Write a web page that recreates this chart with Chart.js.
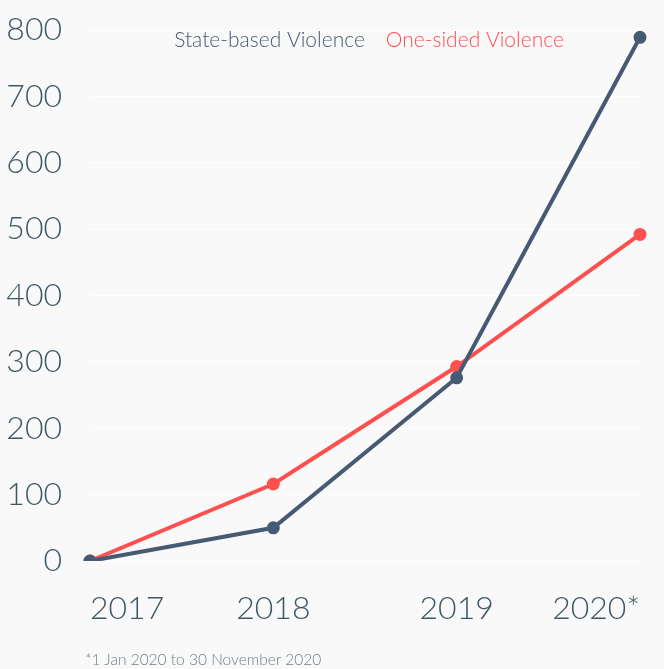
<!DOCTYPE html>
<html>
<head>
<meta charset="utf-8">
<script src="https://cdn.jsdelivr.net/npm/chart.js@4.4.1/dist/chart.umd.min.js"></script>
<style>
  html, body { margin: 0; padding: 0; background: #f9f9f9; }
  #wrap { position: relative; width: 664px; height: 669px; }
  #note { position: absolute; left: 85px; top: 650px; font-family: Lato, sans-serif; font-size: 15.5px; font-weight: 300; color: #6f8087; }
</style>
</head>
<body>
<div id="wrap">
  <canvas id="myChart" width="664" height="669"></canvas>
  <div id="note">*1 Jan 2020 to 30 November 2020</div>
</div>
<script>
// values
const years = ['2017', '2018', '2019', '2020*'];
const stateBased = [0, 50, 276, 789];
const oneSided = [0, 116, 293, 492];
const yTicks = [0, 100, 200, 300, 400, 500, 600, 700, 800];

const slate = '#475a73';
const red = '#ff5050';
const tickColor = '#3f5863';

// legend drawn as plain coloured text inside the top of the plot
const textLegend = {
    id: 'textLegend',
    afterDatasetsDraw(chart) {
        const c = chart.ctx;
        const area = chart.chartArea;
        const gap = 21;
        c.save();
        c.font = '300 21px Lato';
        c.textBaseline = 'middle';
        const items = chart.data.datasets.map(ds => ({ text: ds.label, color: ds.borderColor, w: c.measureText(ds.label).width }));
        const total = items.reduce((s, it) => s + it.w, 0) + gap * (items.length - 1);
        let x = (area.left + area.right) / 2 - total / 2 + 4;
        const y = area.top + 10;
        items.forEach(it => {
            c.fillStyle = it.color;
            c.fillText(it.text, x, y);
            x += it.w + gap;
        });
        c.restore();
    }
};

const ctx = document.getElementById('myChart');
const myChart = new Chart(ctx, {
    type: 'line',
    data: {
        labels: years,
        datasets: [
            {
                label: 'State-based Violence',
                data: stateBased,
                borderColor: slate,
                backgroundColor: slate,
                borderWidth: 4,
                pointRadius: 4.5,
                tension: 0
            },
            {
                label: 'One-sided Violence',
                data: oneSided,
                borderColor: red,
                backgroundColor: red,
                borderWidth: 4,
                pointRadius: 4.5,
                tension: 0
            }
        ]
    },
    options: {
        responsive: false,
        animation: false,
        layout: {
            padding: { top: 30, left: 6, right: 24, bottom: 38 }
        },
        scales: {
            x: {
                offset: false,
                grid: { display: false, drawTicks: false },
                border: { display: false },
                afterFit: axis => { axis.height = 70; axis.paddingRight = 0; axis.paddingLeft = 0; },
                ticks: {
                    align: 'inner',
                    padding: 28,
                    color: tickColor,
                    font: { family: 'Lato', size: 32, weight: 300 }
                }
            },
            y: {
                min: 0,
                max: 800,
                afterBuildTicks: axis => { axis.ticks = yTicks.map(v => ({ value: v })); },
                afterFit: axis => { axis.width = 84; axis.paddingTop = 0; axis.paddingBottom = 0; },
                grid: { color: '#ffffff', lineWidth: 1, drawTicks: false },
                border: { display: false },
                ticks: {
                    padding: 28,
                    color: tickColor,
                    font: { family: 'Lato', size: 32, weight: 300 }
                }
            }
        },
        plugins: {
            legend: { display: false },
            tooltip: { enabled: false }
        }
    },
    plugins: [textLegend]
});
</script>
</body>
</html>
